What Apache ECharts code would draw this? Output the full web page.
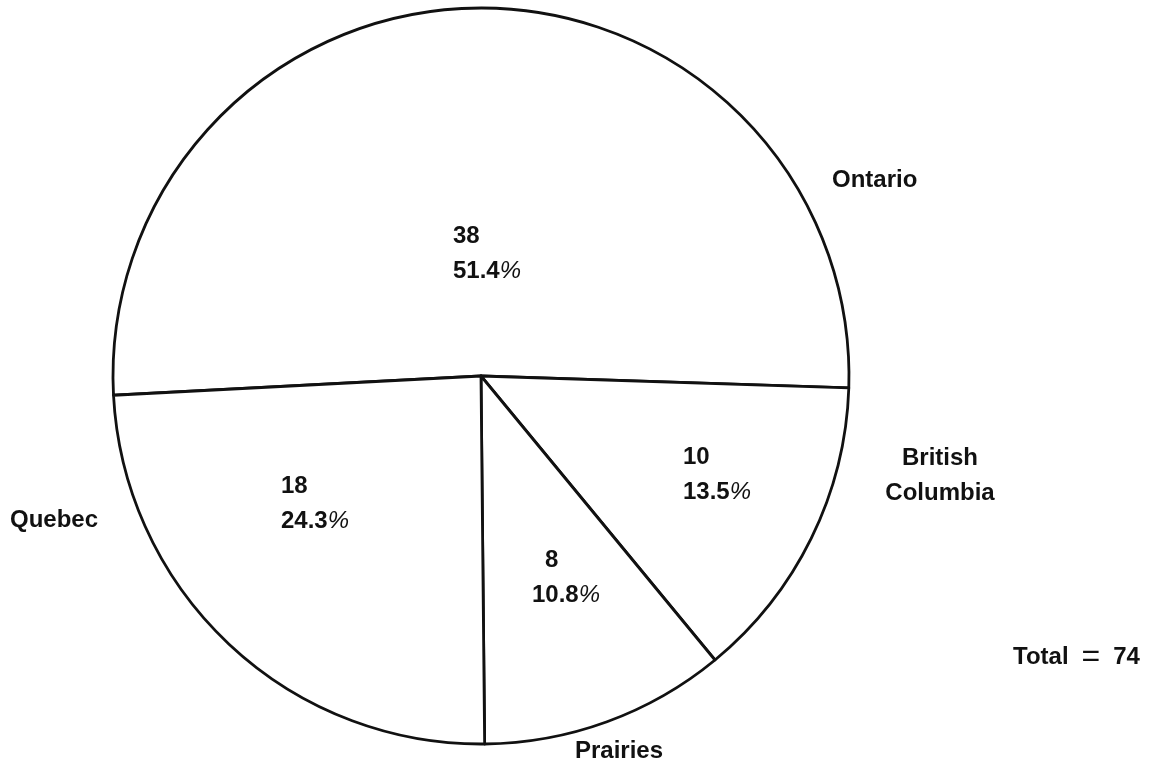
<!DOCTYPE html>
<html>
<head>
<meta charset="utf-8">
<script src="https://cdn.jsdelivr.net/npm/echarts@6/dist/echarts.min.js"></script>
<style>
  html, body { margin: 0; padding: 0; background: #fff; }
  #chart { width: 1161px; height: 766px; }
</style>
</head>
<body>
<div id="chart"></div>
<script>
// Regional counts
const regions = ['Ontario', 'British Columbia', 'Prairies', 'Quebec'];
const counts = [38, 10, 8, 18];

const total = counts.reduce((a, b) => a + b, 0);

const FONT = '"Liberation Sans", Arial, sans-serif';
const INK = '#111';
const CENTER = [481, 376];
const RADIUS = 368;
const START = 183;

// Anchors for the count/percent labels inside each slice
const innerSpots = [
  { x: 453, y: 254 },
  { x: 683, y: 475 },
  { x: 532, y: 578 },
  { x: 281, y: 504 }
];
// Small indent for the count line of each slice label
const countIndent = [0, 0, 13, 0];
// Anchors for the region names around the circle
const outerSpots = [
  { x: 832, y: 180, align: 'left' },
  { x: 940, y: 476, align: 'center' },
  { x: 575, y: 751, align: 'left' },
  { x: 10, y: 520, align: 'left' }
];

const innerData = regions.map((name, i) => ({
  name: name,
  value: counts[i],
  label: {
    formatter: '{n' + i + '|{c}}\n{n|{d}}{p|%}'
  }
}));
const outerData = regions.map((name, i) => ({ name: name, value: counts[i] }));

const numStyle = { fontFamily: FONT, fontWeight: 'bold', fontSize: 24, color: INK, lineHeight: 35 };
const rich = {
  n: numStyle,
  p: { fontFamily: FONT, fontStyle: 'italic', fontWeight: 'normal', fontSize: 24, color: INK, lineHeight: 35 }
};
countIndent.forEach((pad, i) => {
  rich['n' + i] = Object.assign({}, numStyle, { padding: [0, 0, 0, pad] });
});

const chart = echarts.init(document.getElementById('chart'));
chart.setOption({
  backgroundColor: '#ffffff',
  animation: false,
  graphic: [{
    type: 'text',
    left: 1013,
    top: 641,
    silent: true,
    style: {
      text: '{a|Total}{e|=}{a|' + total + '}',
      rich: {
        a: { fontFamily: FONT, fontWeight: 'bold', fontSize: 24, fill: INK, lineHeight: 28 },
        e: { fontFamily: FONT, fontWeight: 'normal', fontSize: 32, fill: INK, lineHeight: 28, padding: [0, 13, 0, 13] }
      }
    }
  }],
  series: [
    {
      type: 'pie',
      center: CENTER,
      radius: RADIUS,
      startAngle: START,
      clockwise: true,
      percentPrecision: 1,
      silent: true,
      data: innerData,
      itemStyle: { color: '#ffffff', borderColor: INK, borderWidth: 2.8 },
      labelLine: { show: false },
      label: {
        show: true,
        position: 'inside',
        lineHeight: 35,
        rich: rich
      },
      labelLayout: function (params) {
        const s = innerSpots[params.dataIndex];
        return { x: s.x, y: s.y, align: 'left', verticalAlign: 'middle' };
      }
    },
    {
      type: 'pie',
      center: CENTER,
      radius: RADIUS,
      startAngle: START,
      clockwise: true,
      silent: true,
      data: outerData,
      itemStyle: { color: 'rgba(0,0,0,0)', borderWidth: 0 },
      labelLine: { show: false },
      label: {
        show: true,
        position: 'inside',
        formatter: function (p) { return p.name.replace(' ', '\n'); },
        fontFamily: FONT,
        fontWeight: 'bold',
        fontSize: 24,
        lineHeight: 35,
        color: INK
      },
      labelLayout: function (params) {
        const s = outerSpots[params.dataIndex];
        return { x: s.x, y: s.y, align: s.align, verticalAlign: 'middle' };
      }
    }
  ]
});
</script>
</body>
</html>
